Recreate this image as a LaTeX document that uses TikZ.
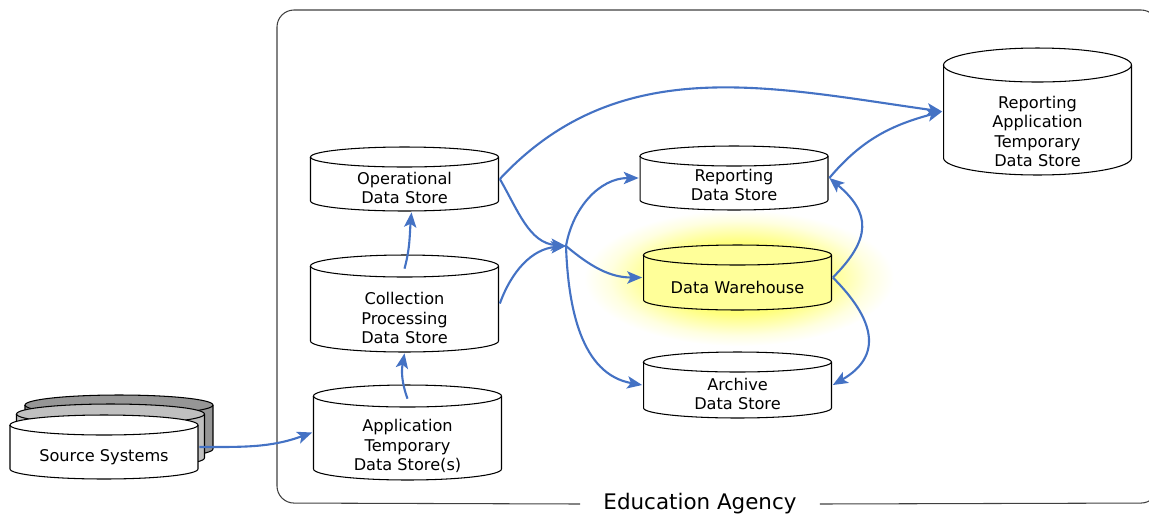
\documentclass[tikz,border=0pt]{standalone}
\usepackage{fontspec}
\setmainfont{DejaVu Sans}
\usetikzlibrary{arrows.meta, calc}

\definecolor{flowblue}{RGB}{68,114,196}
\definecolor{whfill}{RGB}{255,255,153}
\definecolor{backgray}{RGB}{150,150,150}
\definecolor{midgray}{RGB}{192,192,192}

% soft halo round the warehouse
\pgfdeclareradialshading{whglow}{\pgfpoint{0bp}{0bp}}{color(0bp)=(yellow!60); color(13bp)=(yellow!52); color(17bp)=(yellow!32); color(21bp)=(yellow!12); color(25bp)=(white); color(50bp)=(white)}

\tikzset{
  store ry/.store in=\storery, store ry=0.2cm,
  store fill/.store in=\storefill, store fill=white,
  storeline/.style={draw=black, line width=0.6pt},
  % box of the node = cylinder plus 1px, the cylinder is drawn inside it
  store/.style={rectangle, inner sep=0pt, minimum width=3.8cm, path picture={
    \draw[storeline, fill=\storefill]
      ([xshift=0.02cm, yshift=-0.02cm-\storery]path picture bounding box.north west)
      -- ([xshift=0.02cm, yshift=0.02cm+\storery]path picture bounding box.south west)
      arc[start angle=180, end angle=360, x radius=1.88cm, y radius=\storery]
      -- ([xshift=-0.02cm, yshift=-0.02cm-\storery]path picture bounding box.north east)
      arc[start angle=0, end angle=180, x radius=1.88cm, y radius=\storery] -- cycle;
    \draw[storeline] ([xshift=0.02cm, yshift=-0.02cm-\storery]path picture bounding box.north west)
      arc[start angle=180, end angle=360, x radius=1.88cm, y radius=\storery];
  }},
  storetext/.style={align=center, inner sep=0pt, font=\fontsize{9.2}{11.1}\selectfont},
  flow/.style={draw=flowblue, line width=1.2pt, -{Stealth[length=8.5pt, width=7pt, inset=2pt]}},
}

\begin{document}
\begin{tikzpicture}[x=0.02cm, y=0.02cm]
\useasboundingbox (0,0) rectangle (1149,-518);
\shade[shading=whglow] (739,-278) ellipse (155 and 68);

% agency frame, open at the bottom for its name
\node[font=\fontsize{12.2}{14}\selectfont, inner xsep=0.46cm] (agency) at (700,-504) {Education Agency};
\draw[black!75, line width=0.6pt, rounded corners=0.34cm] (agency.east) -- (1158,-503) -- (1158,-10)
  -- (277,-10) -- (277,-503) -- (agency.west);

% source systems
\node[store, store fill=backgray, minimum height=1.32cm] (src3) at (119,-427) {};
\node[store, store fill=midgray, minimum height=1.32cm] (src2) at (110.5,-436) {};
\node[store, minimum height=1.32cm, label={[storetext, yshift=-0.2cm]center:Source Systems}] (src) at (104,-447) {};

% stores inside the agency
\node[store, store ry=0.22cm, minimum height=1.94cm,
  label={[storetext, yshift=-0.27cm]center:Application\\Temporary\\Data Store(s)}] (ats) at (407.5,-432.5) {};
\node[store, store ry=0.22cm, minimum height=1.98cm,
  label={[storetext, yshift=-0.29cm]center:Collection\\Processing\\Data Store}] (cps) at (404.5,-303.5) {};
\node[store, minimum height=1.32cm,
  label={[storetext, yshift=-0.18cm]center:Operational\\Data Store}] (ods) at (404.5,-179) {};
\node[store, minimum height=1.32cm,
  label={[storetext, yshift=-0.14cm]center:Reporting\\Data Store}] (rds) at (734,-178) {};
\node[store, store fill=whfill, minimum height=1.34cm,
  label={[storetext, yshift=-0.19cm]center:Data Warehouse}] (dw) at (737.5,-277.5) {};
\node[store, minimum height=1.36cm,
  label={[storetext, yshift=-0.18cm]center:Archive\\Data Store}] (ads) at (737.5,-385) {};
\node[store, store ry=0.34cm, minimum height=2.58cm,
  label={[storetext, yshift=-0.4cm]center:Reporting\\Application\\Temporary\\Data Store}] (rats) at (1037.5,-111.5) {};

\coordinate (hub) at (566,-246);

\draw[flow] (src.east) to[out=0, in=200] (ats.west);
\draw[flow] ([yshift=-0.3cm]ats.north) to[out=110, in=-100] (cps.south);
\draw[flow] ([yshift=-0.3cm]cps.north) to[out=75, in=-95] ([xshift=0.14cm]ods.south);
\draw[flow] (ods.east) to[out=47, in=172] (rats.west);
\draw[flow] (ods.east) to[out=-60, in=175] (hub);
\draw[flow] (cps.east) to[out=70, in=185] (hub);
\draw[flow] (hub) to[out=80, in=180] (rds.west);
\draw[flow] (hub) to[out=-40, in=180] (dw.west);
\draw[flow] (hub) to[out=-88, in=170] (ads.west);
\draw[flow] (dw.east) to[out=45, in=-40, looseness=1.4] (rds.east);
\draw[flow] (dw.east) to[out=-45, in=30, looseness=1.4] (ads.east);
\draw[flow] (rds.east) to[out=50, in=195] (rats.west);
\end{tikzpicture}
\end{document}
